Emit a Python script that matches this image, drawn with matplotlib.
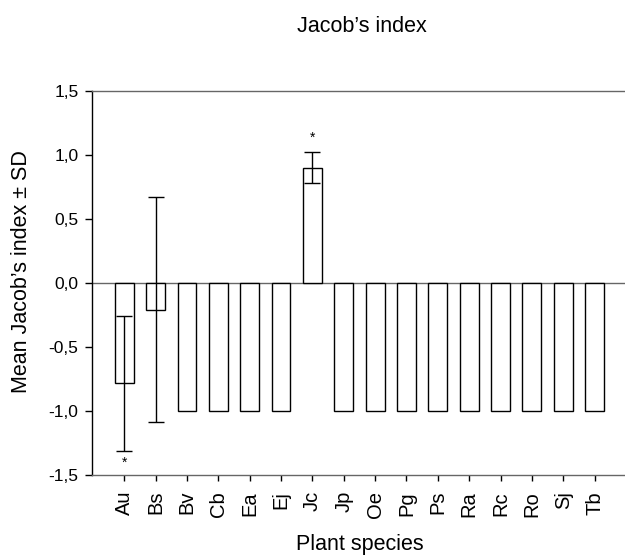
import matplotlib
matplotlib.use("Agg")
import matplotlib.pyplot as plt
from matplotlib.ticker import FuncFormatter

plt.rcParams['font.family'] = ['Liberation Sans', 'DejaVu Sans']

# Data
species = ["Au", "Bs", "Bv", "Cb", "Ea", "Ej", "Jc", "Jp",
           "Oe", "Pg", "Ps", "Ra", "Rc", "Ro", "Sj", "Tb"]
means = [-0.785, -0.21, -1.0, -1.0, -1.0, -1.0, 0.90, -1.0,
         -1.0, -1.0, -1.0, -1.0, -1.0, -1.0, -1.0, -1.0]
sds = [0.525, 0.88, 0, 0, 0, 0, 0.12, 0,
       0, 0, 0, 0, 0, 0, 0, 0]
# asterisks: species -> which side of the error bar
stars = {"Au": "below", "Jc": "above"}

W, H = 625, 555
fig = plt.figure(figsize=(W / 100, H / 100), dpi=100)
ax = fig.add_axes([92.3 / W, (H - 475) / H, 1 - 92.3 / W, (475 - 90.7) / H])

x = list(range(len(species)))
ax.bar(x, means, width=0.6, color="white", edgecolor="black", linewidth=1, zorder=2)

err_idx = [i for i, s in enumerate(sds) if s > 0]
ax.errorbar([x[i] for i in err_idx], [means[i] for i in err_idx],
            yerr=[sds[i] for i in err_idx], fmt="none", ecolor="black",
            elinewidth=1, capsize=5.5, capthick=1, zorder=3)

for name, side in stars.items():
    i = species.index(name)
    if side == "above":
        ax.text(x[i], means[i] + sds[i] + 0.06, "*", ha="center", va="bottom", fontsize=10)
    else:
        ax.text(x[i], means[i] - sds[i] - 0.04, "*", ha="center", va="top", fontsize=10)

ax.axhline(0, color="#666666", linewidth=1, zorder=1)

ax.set_xlim(-1.02, 15.97)
ax.set_ylim(-1.5, 1.5)
ax.set_yticks([-1.5, -1.0, -0.5, 0.0, 0.5, 1.0, 1.5])
ax.yaxis.set_major_formatter(FuncFormatter(lambda v, p: f"{v:.1f}".replace(".", ",")))
ax.set_xticks(x)
ax.set_xticklabels(species, rotation=90, fontsize=14.5)
ax.tick_params(axis="y", direction="out", length=5, width=1, labelsize=12.5, pad=5)
ax.tick_params(axis="x", direction="out", length=4.5, width=1, pad=7)

ax.spines["right"].set_visible(False)
ax.spines["top"].set_color("#666666")
ax.spines["bottom"].set_color("#666666")
ax.spines["left"].set_color("black")
for sp in ax.spines.values():
    sp.set_linewidth(1)

fig.text(362 / W, 1 - 31.7 / H, "Jacob’s index", ha="center", va="baseline", fontsize=15.5)
fig.text(359.5 / W, 1 - 550 / H, "Plant species", ha="center", va="baseline", fontsize=15.5)
fig.text(22 / W, 1 - 271.5 / H, "Mean Jacob’s index ± SD", ha="center", va="center",
         rotation=90, fontsize=15.5)

fig.savefig("out.png", dpi=100)
